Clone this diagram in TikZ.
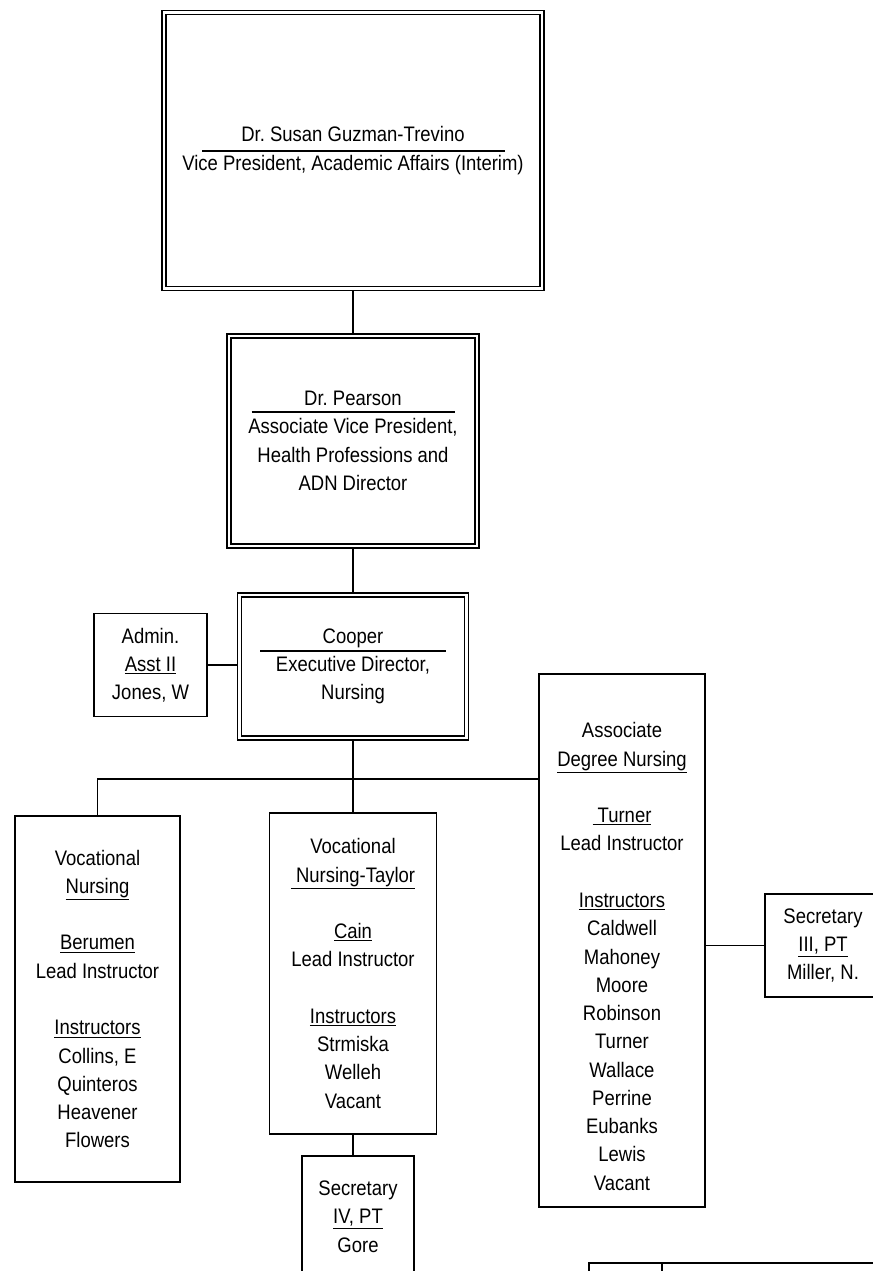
\documentclass[tikz,border=0pt]{standalone}
\usepackage{fontspec}
\setmainfont{Liberation Sans}[FakeStretch=0.88]
\usetikzlibrary{backgrounds,calc}

\tikzset{
  txt/.style={align=center, font=\fontsize{15.75}{21.2}\selectfont},
  box/.style={txt, draw, fill=white, line width=1.2pt, inner sep=0pt},
  dbox/.style={box, line width=1.1pt, double, double distance=2pt},
  link/.style={line width=1.2pt},
  namerule/.style={line width=1.1pt}
}

\begin{document}
\begin{tikzpicture}[x=0.75pt,y=-0.75pt]
\useasboundingbox (0,0) rectangle (873,1271);
\clip (0,0) rectangle (873,1271);

% top of the chart
\node[dbox, minimum width=283.5pt, minimum height=207pt] (vp) at (353,150.5)
  {Dr.\ Susan Guzman-Trevino\\Vice President, Academic Affairs (Interim)};
\node[dbox, minimum width=186pt, minimum height=157.5pt] (avp) at (353,441)
  {Dr.\ Pearson\\Associate Vice President,\\Health Professions and\\ADN Director};
\node[dbox, minimum width=170.25pt, minimum height=107.25pt] (exec) at (353,666.5)
  {Cooper\\Executive Director,\\Nursing};
\node[box, minimum width=84.75pt, minimum height=77.25pt] (admin) at (150.5,665)
  {Admin.\\\underline{Asst II}\\Jones, W};

\draw[namerule] ($(vp.center)+(-151,0.5)$) -- ++(303,0);
\draw[namerule] ($(avp.center)+(-101.5,-29)$) -- ++(203,0);
\draw[namerule] ($(exec.center)+(-93,-15.5)$) -- ++(186,0);

% programs
\node[box, minimum width=123.75pt, minimum height=274.5pt] (vn) at (97.5,999)
  {Vocational\\\underline{Nursing}\\[21.2pt]\underline{Berumen}\\Lead Instructor\\[21.2pt]%
   \underline{Instructors}\\Collins, E\\Quinteros\\Heavener\\Flowers};
\node[box, minimum width=125.25pt, minimum height=240.75pt] (vnt) at (353,973.5)
  {Vocational\\\underline{\ Nursing-Taylor}\\[21.2pt]\underline{Cain}\\Lead Instructor\\[21.2pt]%
   \underline{Instructors}\\Strmiska\\Welleh\\Vacant};
\node[box, minimum width=124.5pt, minimum height=399.75pt] (adn) at (622,940.5) {};
\node[txt] (adntext) at (622,956.5)
  {Associate\\\underline{Degree Nursing}\\[21.2pt]\underline{\ Turner}\\Lead Instructor\\[21.2pt]%
   \underline{Instructors}\\Caldwell\\Mahoney\\Moore\\Robinson\\Turner\\Wallace\\Perrine\\Eubanks\\Lewis\\Vacant};

% secretaries
\node[box, minimum width=87pt, minimum height=77.25pt] (sec3) at (823,945.5)
  {Secretary\\\underline{III, PT}\\Miller, N.};
\node[box, minimum width=84pt, minimum height=90.75pt] (sec4) at (358,1216.5)
  {Secretary\\\underline{IV, PT}\\Gore};

% next page box, cut off
\node[box, minimum width=234pt, minimum height=30pt, anchor=north west] (nextbox) at (588,1262) {};
\draw[link] ($(nextbox.north west)+(74,0)$) -- ++(0,40);

\begin{scope}[on background layer]
\coordinate (bus) at (353,779);
\draw[link] (vp) -- (avp);
\draw[link] (avp) -- (exec);
\draw[link] (admin.east) -- (exec.west |- admin.east);
\draw[link] (exec) -- (vnt);
\draw[link] (vn.north) |- (bus) -- (bus -| adn.west);
\draw[link] (vnt.south) -- (vnt.south |- sec4.north);
\draw[link] (adn.east |- sec3.west) -- (sec3.west);
\end{scope}
\end{tikzpicture}
\end{document}
